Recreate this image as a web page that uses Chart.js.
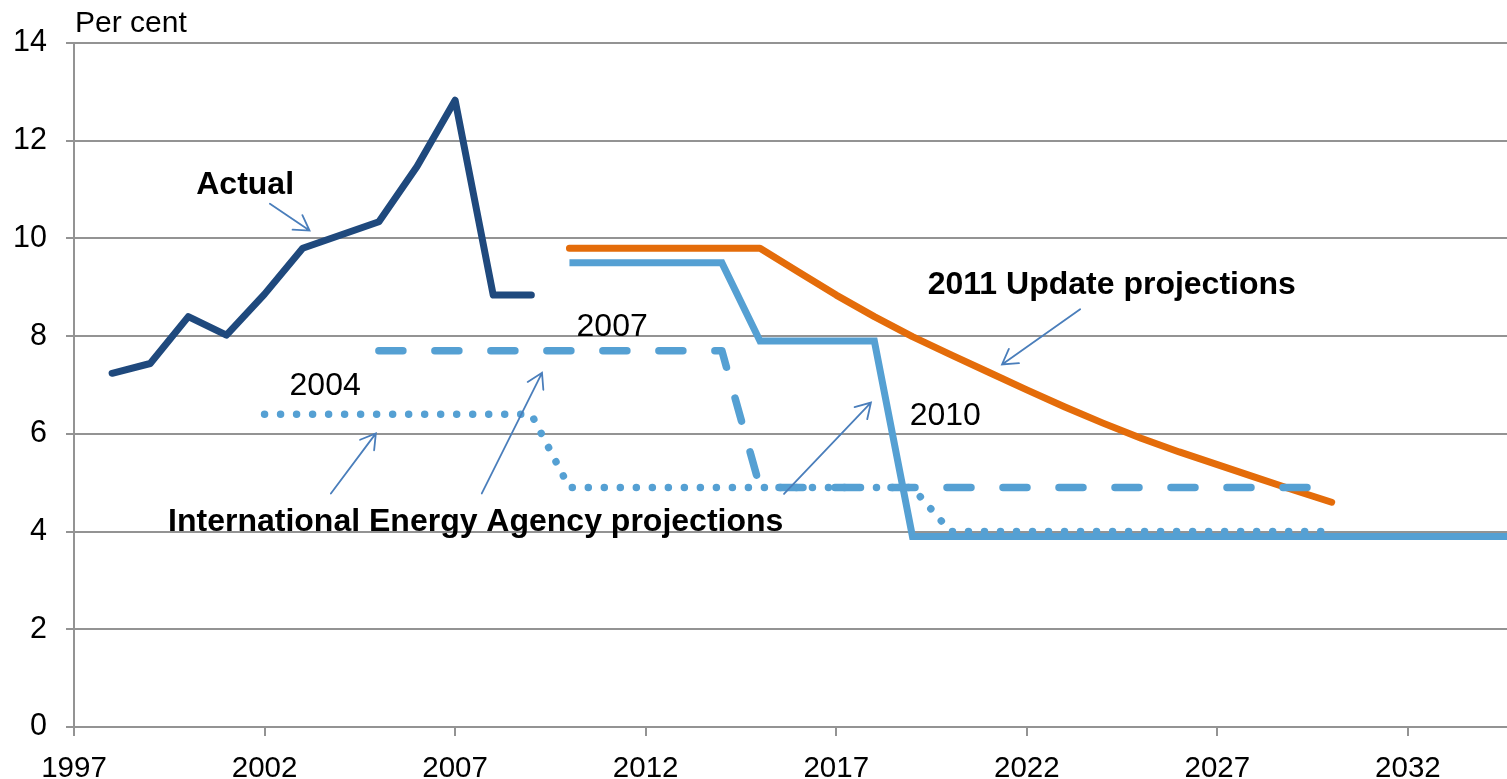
<!DOCTYPE html>
<html>
<head>
<meta charset="utf-8">
<script src="https://cdn.jsdelivr.net/npm/chart.js@4.4.0/dist/chart.umd.min.js"></script>
<style>
  html, body { margin: 0; padding: 0; background: #fff; }
  #wrap { width: 1507px; height: 779px; position: relative; }
</style>
</head>
<body>
<div id="wrap"><canvas id="mainChart"></canvas></div>
<script>
// 데이터
const xTickValues = [1997, 2002, 2007, 2012, 2017, 2022, 2027, 2032];

const actualYears = [1998, 1999, 2000, 2001, 2002, 2003, 2004, 2005, 2006, 2007, 2008, 2009];
const actualValues = [7.24, 7.44, 8.40, 8.02, 8.86, 9.80, 10.07, 10.34, 11.47, 12.83, 8.84, 8.84];

const updateYears = [2010, 2015, 2016, 2017, 2018, 2019, 2020, 2021, 2022, 2023, 2024, 2025, 2026, 2027, 2028, 2029, 2030];
const updateValues = [9.8, 9.8, 9.32, 8.84, 8.40, 7.99, 7.62, 7.26, 6.90, 6.55, 6.22, 5.91, 5.63, 5.37, 5.11, 4.85, 4.6];

const iea2010Years = [2010, 2014, 2015, 2018, 2019, 2035];
const iea2010Values = [9.5, 9.5, 7.9, 7.9, 3.9, 3.9];

const iea2007Years = [2005, 2014, 2015, 2030];
const iea2007Values = [7.7, 7.7, 4.9, 4.9];

const iea2004Years = [2002, 2009, 2010, 2019, 2020, 2030];
const iea2004Values = [6.4, 6.4, 4.9, 4.9, 4.0, 4.0];

const FONT = '"Liberation Sans", Arial, sans-serif';
const DARK_BLUE = '#1f497d';
const LIGHT_BLUE = '#55a0d3';
const ORANGE = '#e46c0a';
const ARROW_COLOR = '#4a7ebb';
const GRID_COLOR = '#939393';

function toPoints(xs, ys) {
  return xs.map((x, i) => ({ x, y: ys[i] }));
}

// 주석 텍스트와 화살표 (데이터 좌표)
const notes = [
  { text: 'Actual', at: [2001.49, 11.08], bold: true },
  { text: '2011 Update projections', at: [2024.23, 9.05], bold: true },
  { text: '2004', at: [2003.59, 6.98], bold: false },
  { text: '2007', at: [2011.12, 8.19], bold: false },
  { text: '2010', at: [2019.86, 6.37], bold: false },
  { text: 'International Energy Agency projections', at: [2007.54, 4.20], bold: true }
];

const arrows = [
  { from: [2002.14, 10.71], to: [2003.18, 10.16] },
  { from: [2023.40, 8.55], to: [2021.35, 7.42] },
  { from: [2003.74, 4.78], to: [2004.92, 6.01] },
  { from: [2007.70, 4.78], to: [2009.28, 7.25] },
  { from: [2015.63, 4.77], to: [2017.91, 6.64] }
];

const notesPlugin = {
  id: 'notes',
  afterDatasetsDraw(chart) {
    const { ctx, chartArea } = chart;
    const xs = chart.scales.x;
    const ys = chart.scales.y;
    ctx.save();

    // 화살표
    ctx.strokeStyle = ARROW_COLOR;
    ctx.lineWidth = 1.8;
    ctx.lineCap = 'round';
    arrows.forEach(a => {
      const x1 = xs.getPixelForValue(a.from[0]);
      const y1 = ys.getPixelForValue(a.from[1]);
      const x2 = xs.getPixelForValue(a.to[0]);
      const y2 = ys.getPixelForValue(a.to[1]);
      const ang = Math.atan2(y2 - y1, x2 - x1);
      const len = 17;
      const spread = 31 * Math.PI / 180;
      ctx.beginPath();
      ctx.moveTo(x1, y1);
      ctx.lineTo(x2, y2);
      ctx.moveTo(x2 - len * Math.cos(ang - spread), y2 - len * Math.sin(ang - spread));
      ctx.lineTo(x2, y2);
      ctx.lineTo(x2 - len * Math.cos(ang + spread), y2 - len * Math.sin(ang + spread));
      ctx.stroke();
    });

    // 텍스트
    ctx.fillStyle = '#000';
    ctx.textAlign = 'center';
    ctx.textBaseline = 'middle';
    notes.forEach(n => {
      ctx.font = (n.bold ? 'bold ' : '') + '32px ' + FONT;
      ctx.fillText(n.text, xs.getPixelForValue(n.at[0]), ys.getPixelForValue(n.at[1]));
    });

    // 단위 표시
    ctx.textAlign = 'left';
    ctx.font = '30px ' + FONT;
    ctx.fillText('Per cent', chartArea.left + 1, chartArea.top - 19);
    ctx.restore();
  }
};

const ctx = document.getElementById('mainChart').getContext('2d');
window.myChart = new Chart(ctx, {
  type: 'line',
  data: {
    datasets: [
      {
        label: 'Actual',
        data: toPoints(actualYears, actualValues),
        borderColor: DARK_BLUE,
        borderWidth: 7,
        borderCapStyle: 'round',
        borderJoinStyle: 'round',
        order: 0
      },
      {
        label: 'IEA 2007',
        data: toPoints(iea2007Years, iea2007Values),
        borderColor: LIGHT_BLUE,
        borderWidth: 7.5,
        borderDash: [24, 32],
        borderCapStyle: 'round',
        borderJoinStyle: 'round',
        order: 1
      },
      {
        label: 'IEA 2010',
        data: toPoints(iea2010Years, iea2010Values),
        borderColor: LIGHT_BLUE,
        borderWidth: 7,
        borderJoinStyle: 'miter',
        order: 2
      },
      {
        label: 'IEA 2004',
        data: toPoints(iea2004Years, iea2004Values),
        borderColor: LIGHT_BLUE,
        borderWidth: 7.5,
        borderDash: [0.01, 16],
        borderCapStyle: 'round',
        borderJoinStyle: 'round',
        order: 3
      },
      {
        label: '2011 Update',
        data: toPoints(updateYears, updateValues),
        borderColor: ORANGE,
        borderWidth: 7,
        borderCapStyle: 'round',
        borderJoinStyle: 'round',
        order: 4
      }
    ]
  },
  options: {
    responsive: true,
    maintainAspectRatio: false,
    animation: false,
    events: [],
    elements: {
      point: { radius: 0 },
      line: { tension: 0, fill: false }
    },
    layout: { padding: { top: 43, right: 0, bottom: 0, left: 0 } },
    plugins: {
      legend: { display: false },
      tooltip: { enabled: false },
      title: { display: false }
    },
    scales: {
      x: {
        type: 'linear',
        min: 1997,
        max: 2034.6,
        afterBuildTicks: scale => { scale.ticks = xTickValues.map(v => ({ value: v })); },
        afterFit: scale => { scale.height = 52; },
        grid: {
          drawOnChartArea: false,
          drawTicks: true,
          tickLength: 9,
          color: GRID_COLOR,
          lineWidth: 2
        },
        border: { display: true, color: GRID_COLOR, width: 2 },
        ticks: {
          autoSkip: false,
          maxRotation: 0,
          padding: 15,
          color: '#000',
          font: { family: FONT, size: 29.5 },
          callback: v => String(v)
        }
      },
      y: {
        type: 'linear',
        min: 0,
        max: 14,
        afterFit: scale => { scale.width = 74; },
        grid: {
          drawOnChartArea: true,
          drawTicks: true,
          tickLength: 8,
          color: GRID_COLOR,
          lineWidth: 2
        },
        border: { display: true, color: GRID_COLOR, width: 2 },
        ticks: {
          stepSize: 2,
          padding: 19,
          color: '#000',
          font: { family: FONT, size: 30.5 }
        }
      }
    }
  },
  plugins: [notesPlugin]
});
</script>
</body>
</html>
